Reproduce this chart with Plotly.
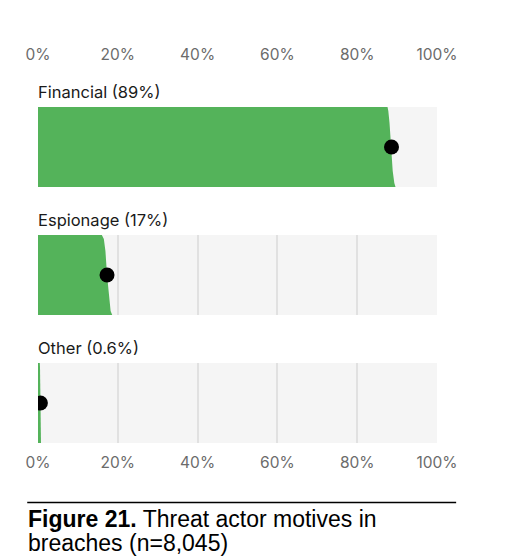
import plotly.graph_objects as go
from plotly.subplots import make_subplots

# ---- data ----
categories = ["Financial", "Espionage", "Other"]
point_values = [88.6, 17.3, 0.6]      # % of breaches (dot position)
value_labels = ["89%", "17%", "0.6%"]
# quantile levels (top -> bottom of each slab) and the interval edge at each level (%)
levels = [0.0, 0.05, 0.2, 0.5, 0.8, 0.95, 1.0]
edge_values = [
    [87.6, 87.8, 88.1, 88.5, 88.9, 89.3, 89.6],
    [16.0, 16.5, 16.9, 17.3, 17.8, 18.2, 18.6],
    [0.45, 0.5, 0.55, 0.6, 0.65, 0.7, 0.75],
]
tick_vals = [0, 20, 40, 60, 80, 100]
tick_text = ["0%", "20%", "40%", "60%", "80%", "100%"]
caption_bold = "Figure 21."
caption_line1 = " Threat actor motives in"
caption_line2 = "breaches (n=8,045)"

GREEN = "#54b35a"
BG = "#f5f5f5"
GRID = "#e1e1e1"

fig = make_subplots(rows=3, cols=1, shared_xaxes=False, vertical_spacing=0.143)

for i, cat in enumerate(categories):
    r = i + 1
    ys = [1 - l for l in levels]
    xs = [0] + edge_values[i] + [0]
    yy = [1] + ys + [0]
    fig.add_trace(go.Scatter(x=xs, y=yy, fill="toself", fillcolor=GREEN,
                             mode="lines", line=dict(width=0, color=GREEN),
                             hoverinfo="skip", showlegend=False), row=r, col=1)
    fig.add_trace(go.Scatter(x=[point_values[i]], y=[0.5], mode="markers",
                             marker=dict(size=15, color="black"),
                             showlegend=False, cliponaxis=True), row=r, col=1)
    fig.add_annotation(text=f"{cat} ({value_labels[i]})", xref="x domain" if r == 1 else f"x{r} domain",
                       yref="y domain" if r == 1 else f"y{r} domain",
                       x=0, y=1, xanchor="left", yanchor="bottom", yshift=3, xshift=-2,
                       showarrow=False, font=dict(family="Inter", size=16.5, color="#1a1a1a"))
    fig.update_xaxes(range=[0, 100], tickvals=tick_vals, ticktext=tick_text,
                     showgrid=True, gridcolor=GRID, gridwidth=2, zeroline=False,
                     showline=False, ticks="", fixedrange=True,
                     tickfont=dict(family="Inter", size=15.5, color="#6b6b6b"),
                     row=r, col=1)
    fig.update_yaxes(range=[0, 1], showgrid=False, zeroline=False,
                     showticklabels=False, fixedrange=True, row=r, col=1)

fig.update_xaxes(side="top", showticklabels=True, ticklabelstandoff=43, row=1, col=1)
fig.update_xaxes(showticklabels=False, row=2, col=1)
fig.update_xaxes(showticklabels=True, ticklabelstandoff=8, row=3, col=1)

fig.update_layout(
    width=522, height=560,
    margin=dict(l=38, r=85, t=107, b=117),
    plot_bgcolor=BG, paper_bgcolor="white",
    yaxis=dict(domain=[0.762, 1.0]),
    yaxis2=dict(domain=[0.381, 0.619]),
    yaxis3=dict(domain=[0.0, 0.238]),
)

fig.add_shape(type="line", xref="paper", yref="paper",
              x0=-0.027, x1=1.048, y0=-0.177, y1=-0.177,
              line=dict(color="black", width=1.5))
cap_font = dict(family="Liberation Sans", size=23, color="black")
fig.add_annotation(text=f"<b>{caption_bold}</b>{caption_line1}", xref="paper", yref="paper",
                   x=-0.03, y=-0.2262, xanchor="left", yanchor="middle", align="left",
                   showarrow=False, font=cap_font)
fig.add_annotation(text=caption_line2, xref="paper", yref="paper",
                   x=-0.03, y=-0.2991, xanchor="left", yanchor="middle", align="left",
                   showarrow=False, font=cap_font)

fig.write_html("out.html")
